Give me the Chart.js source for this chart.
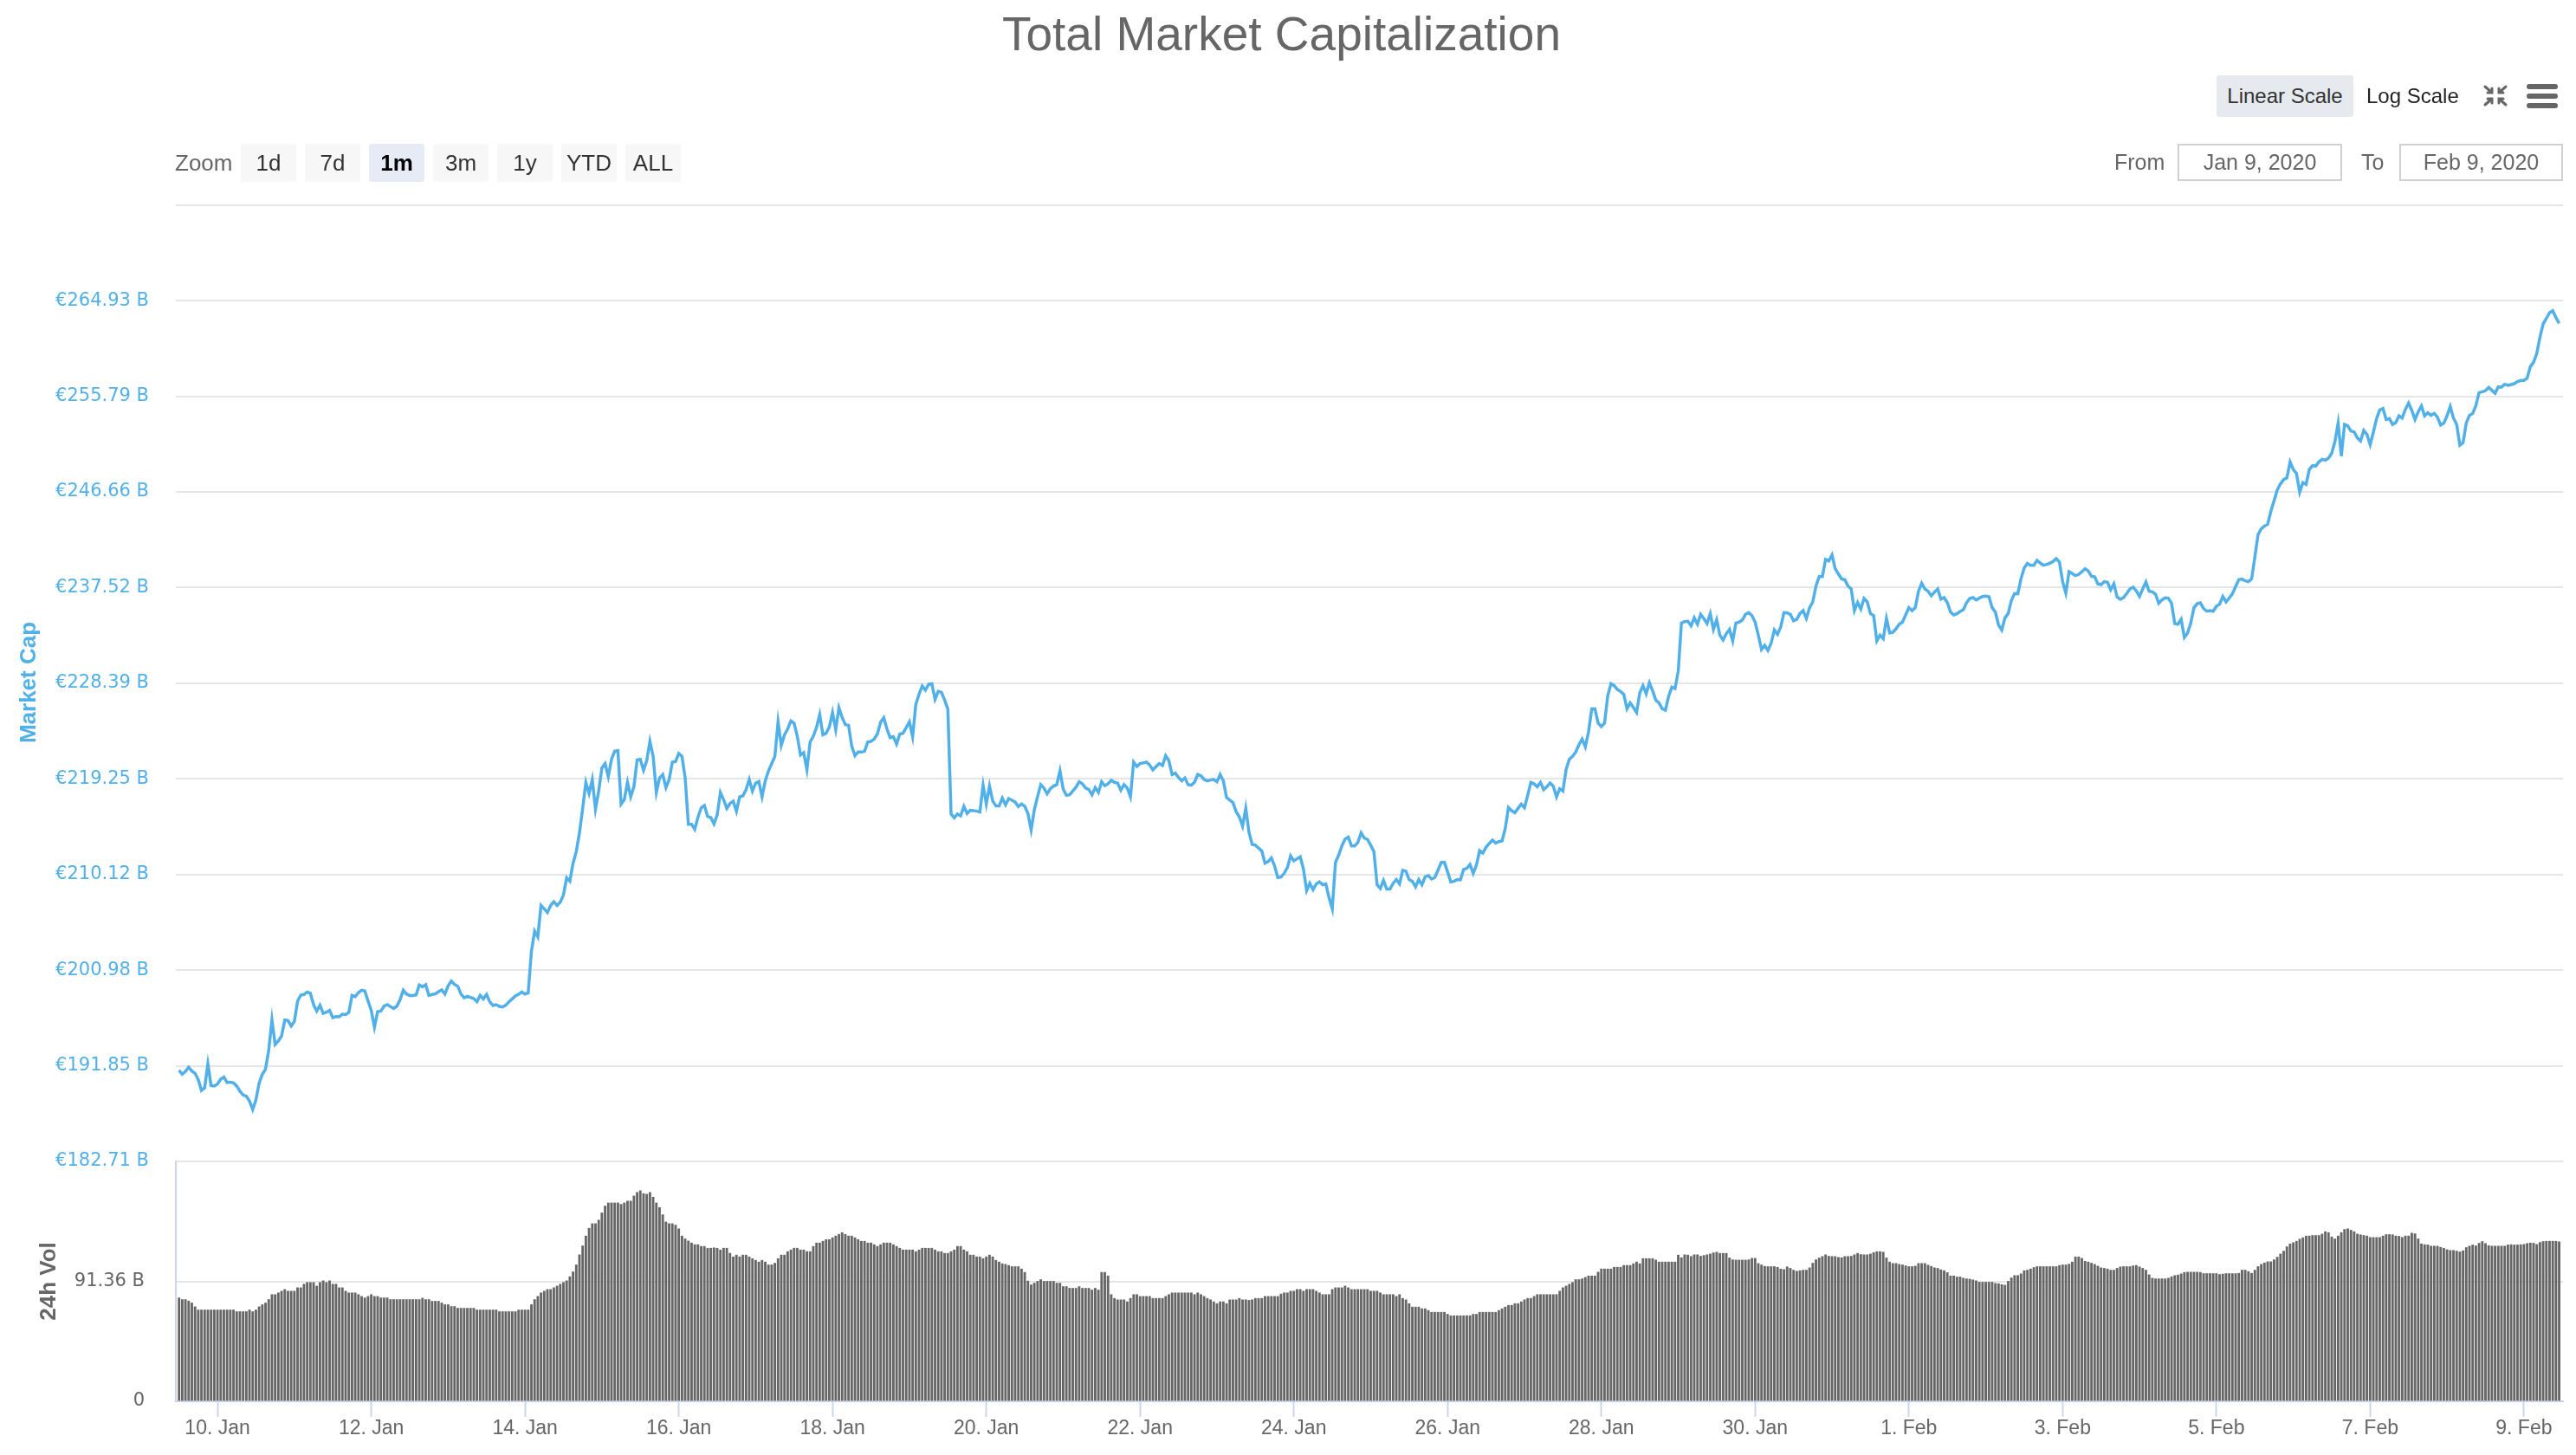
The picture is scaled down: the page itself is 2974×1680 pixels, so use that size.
<!DOCTYPE html>
<html>
<head>
<meta charset="utf-8">
<title>Total Market Capitalization</title>
<script src="https://cdn.jsdelivr.net/npm/chart.js@4.4.1/dist/chart.umd.min.js"></script>
<style>
  html, body { margin: 0; padding: 0; background: #fff; }
  body { width: 2974px; height: 1680px; position: relative; overflow: hidden; font-family: "Liberation Sans", Arial, sans-serif; }
  #wrap { position: absolute; left: 0; top: 0; width: 2974px; height: 1680px; }
  .txt { position: absolute; color: #666; white-space: nowrap; }
  .btn { position: absolute; top: 166px; width: 64px; height: 44px; line-height: 44px; text-align: center;
         background: #f7f7f7; border-radius: 3px; color: #333; font-size: 26px; }
  .btn.on { background: #e6ebf5; color: #000; font-weight: bold; }
  .box { position: absolute; top: 166px; height: 39px; line-height: 39px; border: 2px solid #d0d0d0;
         text-align: center; color: #666; font-size: 25px; }
  #sep { position: absolute; left: 203px; top: 236px; width: 2756px; height: 2px; background: #e6e6e6; }
</style>
</head>
<body>
<div id="wrap"><canvas id="chart"></canvas></div>

<div class="txt" style="left:202px; top:166px; line-height:44px; font-size:26px;">Zoom</div>
<div class="btn" style="left:278px;">1d</div>
<div class="btn" style="left:352px;">7d</div>
<div class="btn on" style="left:426px;">1m</div>
<div class="btn" style="left:500px;">3m</div>
<div class="btn" style="left:574px;">1y</div>
<div class="btn" style="left:648px;">YTD</div>
<div class="btn" style="left:722px;">ALL</div>

<div class="txt" style="left:2559px; top:87px; width:158px; height:48px; line-height:48px; text-align:center; background:#e6e9ee; border-radius:3px; color:#333; font-size:24px;">Linear Scale</div>
<div class="txt" style="left:2732px; top:87px; height:48px; line-height:48px; color:#222; font-size:24px;">Log Scale</div>
<svg style="position:absolute; left:2866px; top:97px;" width="30" height="27" viewBox="0 0 30 27">
  <g stroke="#666" stroke-width="3" fill="none" stroke-linecap="round">
    <path d="M3 3 L11 10 M6 10 L11 10 L11 5"/>
    <path d="M27 3 L19 10 M24 10 L19 10 L19 5"/>
    <path d="M3 24 L11 17 M6 17 L11 17 L11 22"/>
    <path d="M27 24 L19 17 M24 17 L19 17 L19 22"/>
  </g>
</svg>
<svg style="position:absolute; left:2917px; top:97px;" width="36" height="28" viewBox="0 0 36 28">
  <rect x="0" y="0" width="36" height="6" rx="3" fill="#666"/>
  <rect x="0" y="11" width="36" height="6" rx="3" fill="#666"/>
  <rect x="0" y="22" width="36" height="6" rx="3" fill="#666"/>
</svg>

<div class="txt" style="left:2441px; top:166px; line-height:43px; font-size:25px;">From</div>
<div class="box" style="left:2514px; width:186px;">Jan 9, 2020</div>
<div class="txt" style="left:2726px; top:166px; line-height:43px; font-size:25px;">To</div>
<div class="box" style="left:2770px; width:185px;">Feb 9, 2020</div>
<div id="sep"></div>

<script>
// hourly samples, first one at 9 Jan 12:00 (hours counted from 9 Jan 00:00)
var startHour = 12;

// total market cap, billions EUR
var capValues = [
  191.40, 191.04, 191.31, 191.70, 191.34, 191.12, 190.51, 189.49, 189.74, 192.03,
  189.96, 189.91, 190.10, 190.57, 190.76, 190.24, 190.27, 190.21, 189.91, 189.41,
  189.05, 188.94, 188.47, 187.67, 188.58, 190.18, 191.04, 191.51, 193.33, 196.25,
  193.88, 194.21, 194.68, 196.22, 196.17, 195.64, 196.08, 198.01, 198.59, 198.65,
  198.89, 198.78, 197.68, 197.07, 197.63, 196.85, 196.96, 197.13, 196.44, 196.55,
  196.52, 196.77, 196.74, 196.94, 198.56, 198.45, 198.84, 199.06, 198.98, 198.04,
  197.13, 195.53, 197.02, 197.07, 197.54, 197.68, 197.49, 197.32, 197.54, 198.15,
  199.06, 198.70, 198.56, 198.56, 198.62, 199.56, 199.39, 199.58, 198.56, 198.65,
  198.70, 198.92, 199.09, 198.70, 199.47, 199.94, 199.61, 199.45, 198.70, 198.34,
  198.48, 198.37, 198.26, 197.96, 198.56, 198.23, 198.65, 197.96, 197.60, 197.68,
  197.52, 197.46, 197.63, 197.96, 198.23, 198.51, 198.67, 198.89, 198.70, 198.81,
  202.78, 204.71, 204.16, 207.16, 206.83, 206.48, 207.16, 207.52, 207.16, 207.47,
  208.16, 209.81, 209.48, 211.19, 212.29, 214.09, 216.43, 218.91, 217.86, 219.19,
  216.37, 218.08, 220.29, 220.70, 219.46, 221.12, 221.89, 221.94, 216.84, 217.26,
  218.91, 217.53, 218.50, 221.06, 221.12, 220.07, 220.98, 222.83, 221.39, 217.95,
  219.32, 219.65, 218.41, 219.19, 220.84, 220.90, 221.67, 221.39, 219.32, 214.91,
  214.91, 214.44, 215.60, 216.48, 216.70, 215.66, 215.55, 214.94, 215.82, 217.95,
  217.26, 216.43, 216.90, 217.12, 216.15, 217.53, 217.62, 218.22, 219.19, 218.08,
  218.83, 218.99, 217.53, 219.05, 220.01, 220.70, 221.39, 224.70, 222.44, 223.46,
  224.01, 224.78, 224.56, 223.32, 221.53, 221.75, 220.15, 222.77, 223.32, 224.15,
  225.39, 223.46, 223.60, 224.21, 225.58, 223.96, 226.05, 225.11, 224.43, 224.37,
  222.36, 221.47, 221.81, 221.81, 221.89, 222.77, 222.83, 223.05, 223.54, 224.65,
  225.09, 224.01, 223.18, 223.27, 222.58, 223.54, 223.60, 224.15, 224.70, 223.27,
  226.36, 227.32, 228.12, 227.73, 228.29, 228.34, 226.85, 227.60, 227.51, 226.77,
  225.90,
  215.89, 215.53, 215.89, 215.72, 216.63, 215.94, 216.24, 216.22, 216.16, 216.08,
  218.64, 216.85, 218.56, 217.13, 216.66, 216.66, 217.40, 216.77, 217.37, 217.21,
  217.04, 216.60, 216.85, 216.63, 215.94, 214.37, 216.30, 217.54, 218.70, 218.37,
  217.82, 218.31, 218.56, 218.70, 220.02, 218.28, 217.68, 217.73, 218.09, 218.45,
  218.97, 218.78, 218.37, 218.23, 217.73, 218.42, 217.95, 218.97, 218.59, 218.78,
  219.11, 218.92, 218.84, 218.17, 218.70, 218.37, 217.54, 220.85, 220.43, 220.71,
  220.77, 220.85, 220.57, 220.10, 220.43, 220.71, 220.52, 221.46, 220.99, 219.66,
  219.80, 219.39, 219.06, 219.33, 218.70, 218.64, 218.92, 219.66, 219.55, 219.19,
  219.06, 219.14, 219.19, 218.97, 219.66, 219.06, 217.46, 217.21, 216.99, 216.11,
  215.61, 214.73, 216.44, 214.15, 212.99, 212.91, 212.63, 212.36, 211.20, 211.34,
  211.69, 210.92, 209.82, 209.87, 210.23, 210.78, 211.89, 211.42, 211.61, 211.80,
  210.65, 208.58, 209.27, 208.66, 209.21, 209.41, 209.13, 209.21, 207.89, 206.84,
  211.25, 211.97, 212.85, 213.49, 213.68, 212.85, 212.85, 213.18, 214.09, 213.60,
  213.46, 212.91, 212.30, 209.13, 208.77, 209.54, 208.72, 208.72, 209.27, 209.63,
  209.21, 210.51, 210.43, 209.63, 209.46, 208.94, 209.63, 209.13, 209.90, 210.01,
  209.68, 209.82, 210.51, 211.25, 211.28, 210.37, 209.41, 209.46, 209.63, 209.60,
  210.59, 210.70, 211.06, 210.23, 211.00, 212.38, 212.16, 212.71, 213.07,
  213.40, 213.12, 213.26, 213.32, 214.50, 216.51, 216.21, 216.02, 216.43, 216.84,
  216.49, 217.67, 218.91, 218.77, 218.50, 218.91, 218.22, 218.50, 218.86, 218.55,
  217.53, 218.31, 218.09, 220.15, 221.12, 221.39, 221.81, 222.50, 223.05, 222.30,
  223.74, 225.94, 225.94, 224.57, 224.24, 224.57, 227.18, 228.34, 228.15, 227.79,
  227.60, 227.32, 225.94, 226.50, 226.08, 225.59, 227.46, 228.15, 227.38, 228.43,
  227.65, 226.77, 226.50, 225.94, 225.81, 227.13, 228.01, 227.87, 229.53, 234.13,
  234.27, 234.30, 233.86, 234.63, 234.02, 234.96, 234.55, 234.08, 235.04, 233.53,
  234.44, 232.97, 232.51, 233.11, 233.53, 232.42, 234.13, 234.22, 234.41, 234.96,
  235.13, 234.85, 234.22, 232.97, 231.60, 232.01, 231.51, 232.20, 233.47, 233.06,
  233.75, 235.13, 235.10, 234.96, 234.35, 234.49, 235.04, 235.32, 234.57, 235.59,
  236.15, 237.66, 238.57, 238.57, 240.20, 240.06, 240.64, 239.32, 238.82, 238.35,
  238.27, 237.66, 237.39, 235.32, 236.09, 235.46, 236.48, 236.15, 235.04, 234.85,
  232.42, 232.97, 232.64, 234.57, 233.20, 233.25, 233.58, 234.02, 234.22, 234.91,
  235.60, 235.32, 235.60, 237.17, 237.94, 237.39, 237.17, 236.73, 237.09, 237.39,
  236.42, 236.56, 236.09, 235.18, 234.91, 235.02, 235.24, 235.40, 236.06, 236.48,
  236.56, 236.34, 236.51, 236.67, 236.70, 236.64, 235.60, 235.18, 233.94, 233.47,
  234.63, 235.04, 236.29, 236.95, 236.92, 238.35, 239.40, 239.82, 239.65, 239.65,
  240.12, 239.87, 239.65, 239.73, 239.84, 240.01, 240.28, 239.95, 238.08, 236.98,
  239.04, 238.85, 238.66, 238.77, 239.04, 239.32, 239.10, 238.60, 238.55, 237.86,
  237.80, 238.08, 238.02, 237.31, 237.88, 236.62, 236.40, 236.56, 236.95, 237.39,
  237.55, 237.20, 236.67, 237.39, 238.05, 237.17, 237.11, 236.89, 236.01, 236.34,
  236.53, 236.51, 236.01, 234.08, 234.02, 234.49, 232.76, 233.17, 234.13, 235.60,
  235.98, 236.06, 235.51, 235.26, 235.32, 235.26, 235.73, 235.93, 236.67, 236.15,
  236.51, 236.92, 237.61, 238.27, 238.33, 238.16, 238.08, 238.35, 240.42, 242.57,
  243.12, 243.40, 243.56, 244.81, 245.80, 246.85, 247.43, 247.84, 248.00, 249.52,
  248.80, 248.42, 246.63, 247.54, 247.37, 248.80, 249.16, 249.13, 249.52, 249.77,
  249.69, 249.88, 250.35, 251.45, 253.24, 250.07, 253.10, 252.97, 252.47, 252.39,
  251.81, 251.53, 252.53, 252.14, 251.17, 252.36, 253.66, 254.48, 254.62, 253.57,
  253.66, 253.10, 253.27, 253.93, 253.71, 254.54, 255.15, 254.43, 253.57, 254.29,
  254.87, 253.93, 254.21, 253.96, 254.15, 253.79, 253.05, 253.22, 253.93, 254.81,
  253.71, 253.10, 251.12, 251.37, 253.24, 253.96, 254.15, 254.90, 256.14, 256.22,
  256.33, 256.63, 256.36, 256.08, 256.69, 256.66, 256.94, 256.83, 256.91, 256.99,
  257.19, 257.30, 257.30, 257.52, 258.62, 259.03, 259.86, 261.43, 262.70, 263.22,
  263.78, 263.97, 263.31, 262.76
];

// 24h volume, billions EUR
var volValues = [
  78.8, 77.5, 77.5, 76.4, 74.9, 72.0, 69.6, 69.6, 69.6, 69.6,
  69.6, 69.6, 69.6, 69.6, 69.6, 69.6, 69.6, 69.6, 68.3, 68.3,
  68.3, 68.3, 69.6, 68.3, 69.6, 72.0, 73.6, 74.9, 77.5, 81.3,
  81.3, 82.6, 83.9, 85.2, 83.9, 83.9, 83.9, 86.5, 86.5, 89.2,
  90.5, 90.5, 90.5, 87.8, 90.5, 91.8, 90.5, 91.8, 89.2, 89.2,
  86.5, 86.5, 83.9, 82.6, 82.6, 82.6, 81.3, 79.9, 78.8, 79.9,
  81.3, 79.9, 79.9, 78.8, 78.8, 78.8, 77.5, 77.5, 77.5, 77.5,
  77.5, 77.5, 77.5, 77.5, 77.5, 77.5, 78.6, 77.5, 77.5, 76.2,
  76.2, 76.2, 74.9, 73.6, 73.6, 72.2, 72.2, 70.9, 70.9, 70.9,
  70.9, 70.9, 70.9, 69.6, 69.6, 69.6, 69.6, 69.6, 69.6, 69.6,
  68.3, 68.3, 68.3, 68.3, 68.3, 68.3, 69.6, 69.6, 69.6, 69.6,
  73.6, 77.5, 79.9, 82.6, 83.9, 85.2, 85.2, 86.5, 87.8, 89.2,
  90.5, 91.8, 94.9, 98.6, 103.9, 111.6, 118.4, 125.9, 131.8, 135.3,
  135.3, 138.0, 143.5, 148.7, 151.1, 151.1, 151.1, 151.1, 150.0, 151.1,
  152.5, 152.5, 156.4, 159.1, 160.4, 158.2, 157.7, 159.1, 155.5, 151.1,
  147.6, 142.1, 136.6, 135.3, 135.3, 134.2, 131.4, 125.9, 123.7, 122.1,
  120.6, 119.3, 119.3, 118.0, 118.0, 116.6, 116.6, 116.9, 116.6, 115.3,
  116.6, 116.6, 112.7, 110.0, 111.4, 110.0, 111.4, 111.4, 110.0, 108.7,
  107.4, 106.1, 107.4, 106.1, 103.9, 103.9, 105.2, 108.7, 111.4, 111.4,
  114.0, 115.3, 116.6, 116.6, 115.3, 115.3, 114.0, 114.0, 118.0, 120.6,
  120.6, 121.9, 123.2, 123.2, 124.6, 125.9, 127.2, 128.5, 127.2, 125.9,
  125.9, 124.6, 123.2, 121.9, 121.9, 120.6, 120.6, 119.3, 118.0, 119.3,
  120.6, 120.6, 120.6, 119.3, 118.0, 116.6, 115.3, 115.3, 115.3, 115.3,
  114.0, 115.3, 116.6, 116.6, 116.6, 116.6, 115.3, 114.0, 114.0, 112.7,
  112.7, 114.0, 115.3, 118.0, 118.0, 115.3, 114.0, 111.4, 111.4, 110.0,
  110.0, 108.7, 110.0, 111.4, 110.0, 107.4, 106.1, 104.8, 104.3, 103.5,
  102.6, 102.6, 102.6, 100.8, 98.2, 91.6, 88.7, 90.0, 91.4, 92.7,
  91.4, 91.4, 91.4, 91.4, 90.0, 90.0, 87.4, 87.4, 86.1, 86.1,
  86.1, 87.4, 86.1, 86.1, 86.1, 84.8, 86.1, 84.8, 98.2, 98.2,
  95.5, 81.3, 78.4, 77.3, 77.3, 77.3, 75.8, 78.4, 81.3, 81.3,
  79.9, 79.9, 79.9, 79.9, 78.4, 78.4, 78.4, 78.4, 79.9, 81.3,
  82.6, 82.6, 82.6, 82.6, 82.6, 82.6, 82.6, 81.3, 82.6, 81.3,
  79.9, 78.4, 77.3, 75.8, 74.4, 75.8, 75.8, 74.4, 77.3, 77.3,
  77.3, 78.4, 77.3, 77.3, 76.9, 77.3, 78.4, 78.4, 78.4, 79.9,
  79.9, 79.9, 79.9, 79.9, 81.7, 82.6, 82.6, 83.9, 83.9, 85.2,
  85.2, 83.9, 85.2, 85.2, 85.2, 83.9, 82.6, 81.3, 81.3, 81.3,
  85.2, 86.5, 86.5, 86.5, 87.8, 86.5, 85.2, 85.2, 85.2, 85.2,
  85.2, 85.2, 83.9, 83.9, 83.9, 82.6, 81.3, 81.3, 81.3, 81.3,
  79.9, 81.3, 78.4, 77.3, 74.4, 71.8, 71.8, 71.8, 70.5, 70.5,
  69.2, 67.8, 67.8, 67.8, 67.8, 67.8, 66.3, 65.2, 65.2, 65.2,
  65.2, 65.2, 65.2, 65.2, 66.3, 66.3, 67.8, 67.8, 67.8, 67.8,
  67.8, 67.8, 69.2, 70.5, 71.8, 73.1, 73.1, 74.4, 74.4, 75.8,
  77.3, 78.4, 78.4, 79.9, 81.3, 81.3, 81.3, 81.3, 81.3, 81.3,
  81.3, 83.9, 86.5, 87.8, 89.2, 90.5, 92.7, 92.7, 93.3, 94.4,
  95.5, 95.5, 95.5, 98.4, 100.8, 100.8, 100.8, 100.8, 102.1, 102.1,
  102.1, 103.5, 103.5, 103.5, 104.8, 106.1, 104.8, 108.7, 108.7, 108.7,
  108.7, 107.6, 106.1, 106.1, 106.1, 106.1, 106.1, 106.1, 111.4, 109.4,
  111.6, 111.4, 110.3, 111.6, 111.6, 110.5, 111.1, 111.6, 112.2, 113.1,
  113.6, 112.7, 112.7, 112.7, 109.2, 107.8, 107.6, 107.6, 107.6, 107.6,
  107.8, 108.9, 108.9, 105.0, 103.9, 102.8, 102.6, 102.6, 102.6, 102.1,
  100.8, 100.4, 102.4, 101.3, 99.9, 99.1, 99.5, 99.9, 99.9, 101.7,
  105.2, 107.8, 109.2, 110.3, 111.6, 110.5, 110.3, 110.3, 109.6, 109.4,
  110.3, 110.3, 110.5, 111.6, 112.7, 111.8, 111.6, 111.6, 112.2, 113.3,
  114.0, 114.0, 113.6, 109.2, 106.1, 105.0, 105.0, 104.3, 103.9, 103.2,
  102.6, 102.6, 103.0, 105.0, 105.0, 105.0, 103.7, 102.8, 101.7, 101.3,
  100.2, 99.5, 98.0, 95.5, 95.5, 94.7, 94.7, 93.8, 93.3, 93.1,
  92.5, 91.8, 90.7, 90.7, 90.7, 90.7, 90.7, 89.8, 89.6, 88.9,
  88.5, 91.4, 94.0, 95.8, 95.8, 97.1, 99.5, 99.9, 100.8, 101.9,
  102.6, 102.6, 102.6, 102.6, 102.6, 102.6, 102.6, 103.5, 103.9, 103.9,
  104.5, 106.1, 110.0, 110.0, 108.9, 106.7, 106.1, 105.2, 104.3, 103.0,
  101.7, 101.3, 100.8, 99.9, 99.9, 101.3, 102.4, 102.6, 102.6, 102.6,
  103.2, 103.5, 102.4, 101.3, 99.9, 96.4, 93.8, 93.3, 93.3, 93.3,
  93.3, 93.8, 94.9, 95.8, 96.2, 97.1, 98.2, 98.4, 98.4, 98.4,
  98.4, 98.2, 97.3, 97.3, 97.3, 97.3, 97.3, 96.6, 96.9, 97.3,
  97.3, 97.3, 97.3, 97.5, 99.9, 99.9, 98.8, 97.5, 99.9, 102.6,
  104.3, 105.4, 106.3, 106.3, 107.8, 109.8, 112.2, 114.4, 117.7, 119.9,
  120.8, 121.9, 123.5, 124.6, 125.9, 125.9, 126.3, 126.3, 126.3, 127.4,
  129.2, 128.5, 125.2, 123.7, 125.9, 128.5, 130.9, 131.4, 130.3, 129.2,
  127.4, 126.8, 126.3, 125.9, 124.8, 124.8, 124.8, 124.8, 125.9, 127.0,
  127.0, 126.8, 125.9, 125.7, 124.8, 125.9, 125.9, 128.1, 127.6, 123.7,
  119.9, 119.3, 119.1, 118.2, 118.2, 118.2, 117.3, 116.6, 115.5, 114.9,
  114.9, 114.4, 113.8, 114.7, 117.1, 118.2, 119.1, 118.4, 120.4, 121.7,
  120.2, 118.6, 118.2, 118.2, 118.2, 118.2, 118.2, 119.1, 119.3, 119.1,
  119.1, 119.3, 119.5, 120.2, 120.6, 120.4, 119.5, 121.0, 121.7, 121.9,
  121.9, 121.9, 121.9, 121.5
];

var capTicks = [182.71, 191.85, 200.98, 210.12, 219.25, 228.39, 237.52, 246.66, 255.79, 264.93];
var volTicks = [0, 91.36];
var dayTicks = [24, 72, 120, 168, 216, 264, 312, 360, 408, 456, 504, 552, 600, 648, 696, 744];
var dayLabels = ["10. Jan", "12. Jan", "14. Jan", "16. Jan", "18. Jan", "20. Jan", "22. Jan", "24. Jan",
                 "26. Jan", "28. Jan", "30. Jan", "1. Feb", "3. Feb", "5. Feb", "7. Feb", "9. Feb"];

var blue = "#52b0e8";
var hours = capValues.map(function(v, i) { return startHour + i; });

Chart.defaults.font.family = "'Liberation Sans', Arial, sans-serif";

var ctx = document.getElementById("chart").getContext("2d");
var chart = new Chart(ctx, {
  type: "line",
  data: {
    datasets: [
      {
        type: "line",
        label: "Market Cap",
        data: hours.map(function(h, i) { return { x: h, y: capValues[i] }; }),
        yAxisID: "y",
        borderColor: blue,
        borderWidth: 3.5,
        pointRadius: 0,
        tension: 0,
        fill: false
      },
      {
        type: "bar",
        label: "24h Vol",
        data: hours.map(function(h, i) { return { x: h, y: volValues[i] }; }),
        yAxisID: "yVol",
        backgroundColor: "#666666",
        barThickness: 2.2,
        grouped: false
      }
    ]
  },
  options: {
    animation: false,
    responsive: true,
    maintainAspectRatio: false,
    events: [],
    layout: { padding: { left: 0, right: 15, top: 0, bottom: 0 } },
    plugins: {
      legend: { display: false },
      tooltip: { enabled: false },
      title: {
        display: true,
        text: "Total Market Capitalization",
        color: "#666",
        font: { size: 55, weight: "normal", lineHeight: 1.2 },
        padding: { top: 10, bottom: 159 }
      }
    },
    scales: {
      x: {
        type: "linear",
        min: 11,
        max: 756.2,
        offset: false,
        afterBuildTicks: function(scale) {
          scale.ticks = dayTicks.map(function(v) { return { value: v }; });
        },
        afterFit: function(scale) { scale.height = 62; },
        grid: { offset: false, drawOnChartArea: false, drawTicks: true, tickLength: 18, tickColor: "#ccd6eb", tickWidth: 2 },
        border: { color: "#ccd6eb", width: 2 },
        ticks: {
          color: "#666",
          font: { size: 23, lineHeight: 1 },
          padding: 2,
          maxRotation: 0,
          autoSkip: false,
          callback: function(value) {
            var i = dayTicks.indexOf(value);
            return i < 0 ? "" : dayLabels[i];
          }
        }
      },
      y: {
        type: "linear",
        position: "left",
        stack: "panes",
        stackWeight: 1106,
        weight: 1,
        min: 182.71,
        max: 274.2,
        afterBuildTicks: function(scale) {
          scale.ticks = capTicks.map(function(v) { return { value: v }; });
        },
        afterFit: function(scale) { scale.width = 203; },
        grid: { color: "#e6e6e6", lineWidth: 2, drawTicks: false },
        border: { display: false },
        ticks: {
          color: blue,
          font: { family: "'DejaVu Sans', sans-serif", size: 21 },
          padding: 31,
          callback: function(value) { return "€" + value.toFixed(2) + " B"; }
        },
        title: {
          display: true,
          text: "Market Cap",
          color: blue,
          font: { size: 26, weight: "bold" },
          padding: { top: 18, bottom: 0 }
        }
      },
      yVol: {
        type: "linear",
        position: "left",
        stack: "panes",
        stackWeight: 277,
        weight: 0,
        min: 0,
        max: 182.72,
        afterBuildTicks: function(scale) {
          scale.ticks = volTicks.map(function(v) { return { value: v }; });
        },
        afterFit: function(scale) { scale.width = 203; },
        grid: {
          color: function(c) { return c.tick && c.tick.value === 0 ? "rgba(0,0,0,0)" : "#e6e6e6"; },
          lineWidth: 2,
          drawTicks: false
        },
        border: { color: "#ccd6eb", width: 2 },
        ticks: {
          color: "#666",
          font: { family: "'DejaVu Sans', sans-serif", size: 21 },
          padding: 36,
          callback: function(value) { return value === 0 ? "0" : value.toFixed(2) + " B"; }
        },
        title: {
          display: true,
          text: "24h Vol",
          color: "#666",
          font: { size: 26, weight: "bold" },
          padding: { top: 41, bottom: 0 }
        }
      }
    }
  }
});
</script>
</body>
</html>
